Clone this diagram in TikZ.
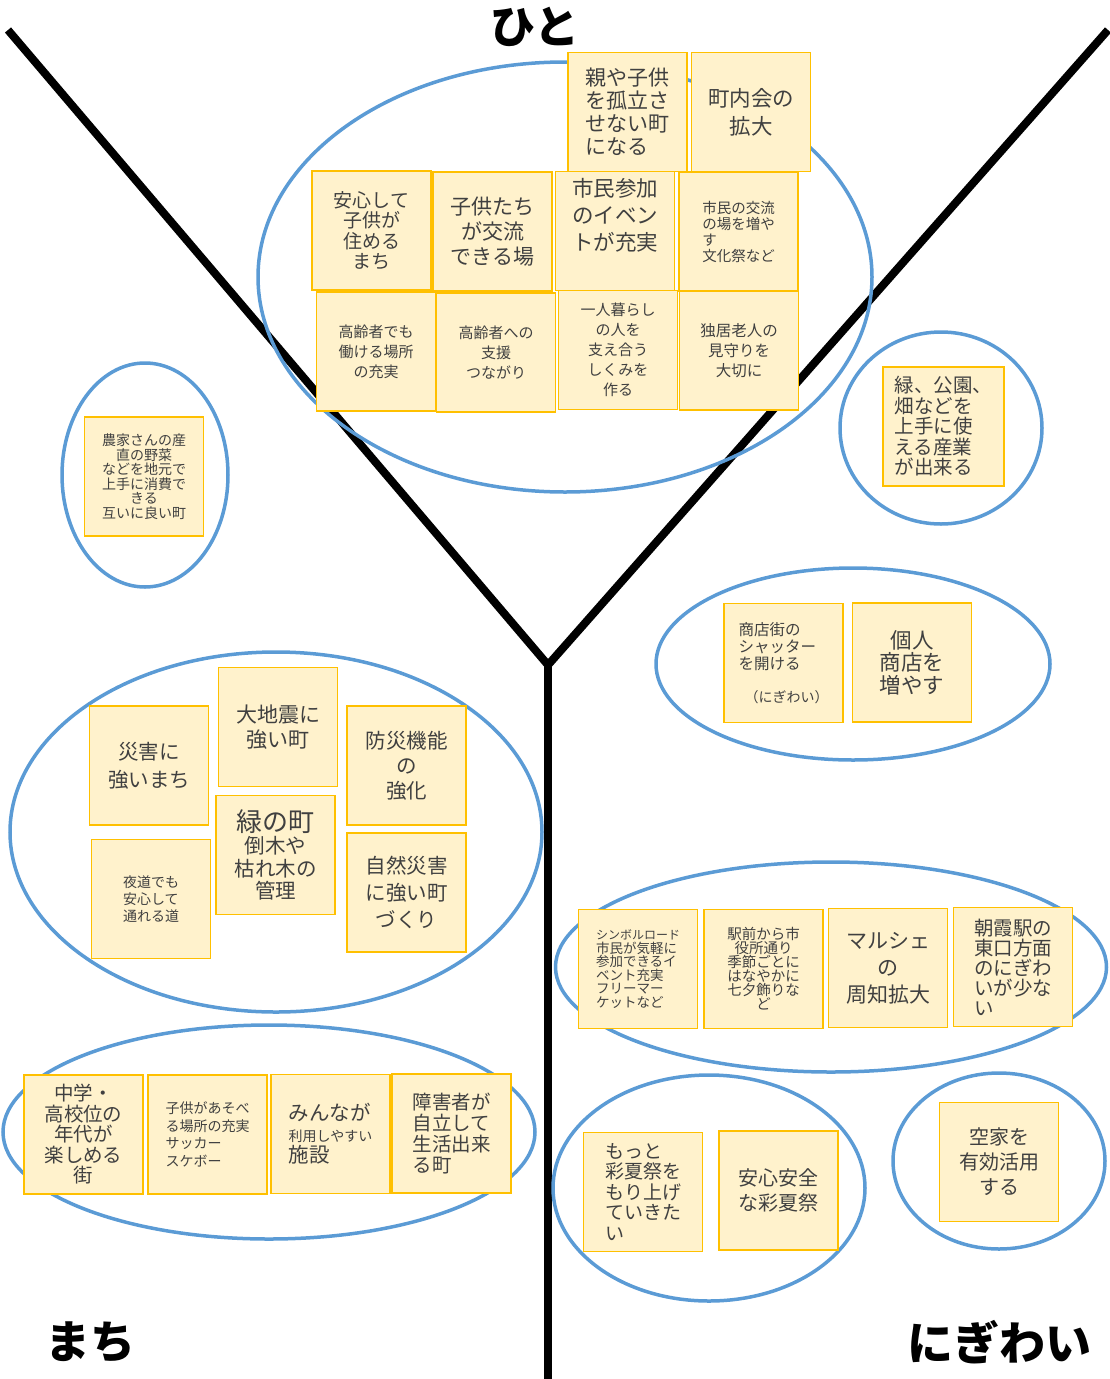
\documentclass[tikz,border=0pt]{standalone}
\usepackage{fontspec}
\setmainfont{Noto Sans CJK JP}
\usetikzlibrary{shapes.geometric}
\usepackage{xcolor}
\definecolor{ringblue}{RGB}{91,155,213}
\definecolor{notefill}{RGB}{255,242,204}
\definecolor{notegold}{RGB}{255,192,0}
\definecolor{notetext}{RGB}{64,64,64}

\begin{document}
\begin{tikzpicture}[x=1pt,y=-1pt,
  ring/.style={draw=ringblue,line width=3.5pt,ellipse,inner sep=0pt},
  note/.style={draw=notegold,line width=1.8pt,fill=notefill,rectangle,minimum width=119pt,
               minimum height=119pt,inner sep=0pt,align=center,text=notetext},
  fs/.style 2 args={font=\fontsize{#1}{#2}\selectfont},
  yline/.style={line width=8pt,black},
  areaname/.style={font=\fontsize{45}{45}\selectfont\bfseries}
]
  \useasboundingbox (0,0) rectangle (1110,1379);

  % Y-chart axes
  \coordinate (tl) at (8,30);
  \coordinate (tr) at (1108,30);
  \coordinate (mid) at (548,665);
  \coordinate (bot) at (548,1379);
  \draw[yline] (tl) -- (mid) -- (tr);
  \draw[yline] (mid) -- (bot);

  \node[areaname] (hitoname)  at (535,27)   {ひと};
  \node[areaname] (machiname) at (90,1342)  {まち};
  \node[areaname,font=\fontsize{46}{46}\selectfont\bfseries] (niginame) at (999,1342) {にぎわい};

  % groups
  \node[ring,minimum width=614pt,minimum height=430pt] (ghito)   at (565,277)  {};
  \node[ring,minimum width=166pt,minimum height=224pt] (gfarm)   at (145,475)  {};
  \node[ring,minimum width=202pt,minimum height=192pt] (ggreen)  at (941,428)  {};
  \node[ring,minimum width=394pt,minimum height=192pt] (gshop)   at (853,664)  {};
  \node[ring,minimum width=532pt,minimum height=360pt] (gsaigai) at (276,832)  {};
  \node[ring,minimum width=551pt,minimum height=210pt] (gevent)  at (831,967)  {};
  \node[ring,minimum width=532pt,minimum height=214pt] (gyouth)  at (269,1132) {};
  \node[ring,minimum width=312pt,minimum height=226pt] (gmatsuri) at (709,1188) {};
  \node[ring,minimum width=212pt,minimum height=176pt] (gakiya)  at (999,1161) {};

  % ひと
  \node[note,fs={21}{23},align=left] (parent) at (627.5,112)
    {親や子供\\を孤立さ\\せない町\\になる};
  \node[note,fs={21.5}{28}] (chonai) at (751,112) {町内会の\\拡大};
  \node[note,fs={19}{20.5}] (anshin) at (371.5,230.5) {安心して\\子供が\\住める\\まち};
  \node[note,fs={21}{25}] (kodomo) at (492.5,231.5) {子供たち\\が交流\\できる場};
  \node[note,fs={21.5}{27}] (shimin) at (615,231) {市民参加\\のイベン\\トが充実\\[6pt]};
  \node[note,fs={14.5}{16},align=left] (koryu) at (738.5,231.5)
    {市民の交流\\の場を増や\\す\\文化祭など};
  \node[note,fs={15}{20}] (koreia) at (376,351.5) {高齢者でも\\働ける場所\\の充実};
  \node[note,fs={15}{20}] (koreib) at (496,352.5) {高齢者への\\支援\\つながり};
  \node[note,fs={15}{20}] (hitori) at (618,350) {一人暮らし\\の人を\\支え合う\\しくみを\\作る};
  \node[note,fs={15.5}{20}] (dokkyo) at (739,350.5) {独居老人の\\見守りを\\大切に};

  \node[note,fs={14}{14.5}] (farm) at (144,476.5)
    {農家さんの産\\直の野菜\\などを地元で\\上手に消費で\\きる\\互いに良い町};
  \node[note,fs={19.5}{20.5},align=left,minimum width=121pt] (green) at (943.5,426.5)
    {緑、公園、\\畑などを\\上手に使\\える産業\\が出来る};

  % にぎわい
  \node[note,fs={15.5}{17},align=left] (shutter) at (783.5,663)
    {商店街の\\シャッター\\を開ける\\[16pt]\hspace{6pt}{\fontsize{14}{17}\selectfont （にぎわい）}};
  \node[note,fs={21.5}{22.5}] (kojin) at (912,662.5) {個人\\商店を\\増やす};

  \node[note,fs={13.5}{13.5},align=left] (symbol) at (638,969)
    {{\fontsize{12}{13.5}\selectfont シンボルロード}\\市民が気軽に\\参加できるイ\\ベント充実\\フリーマー\\ケットなど};
  \node[note,fs={14.5}{14}] (ekimae) at (763.5,969)
    {駅前から市\\役所通り\\季節ごとに\\はなやかに\\七夕飾りな\\ど};
  \node[note,fs={21}{27}] (marche) at (888,968) {マルシェ\\の\\周知拡大};
  \node[note,fs={19.5}{20},align=left] (asaka) at (1013,967)
    {朝霞駅の\\東口方面\\のにぎわ\\いが少な\\い};

  \node[note,fs={19}{20.5},align=left] (motto) at (643,1192)
    {もっと\\彩夏祭を\\もり上げ\\ていきた\\い};
  \node[note,fs={20}{25}] (anzen) at (778.5,1190.5) {安心安全\\な彩夏祭};
  \node[note,fs={20}{25}] (akiya) at (999,1162) {空家を\\有効活用\\する};

  % まち
  \node[note,fs={20.5}{28}] (saigai) at (149,765.5) {災害に\\強いまち};
  \node[note,fs={21}{25}] (jishin) at (278,727) {大地震に\\強い町};
  \node[note,fs={20.5}{25}] (bosai) at (406.5,765.5) {防災機能\\の\\強化};
  \node[note,fs={20.5}{22.5}] (midori) at (275.5,855)
    {{\fontsize{26}{28}\selectfont 緑の町}\\倒木や\\枯れ木の\\管理};
  \node[note,fs={14}{17},align=left] (yomichi) at (151,899) {夜道でも\\安心して\\通れる道};
  \node[note,fs={20.5}{27}] (shizen) at (406.5,892.5) {自然災害\\に強い町\\づくり};

  \node[note,fs={19.5}{20.5}] (chugaku) at (83.5,1134.5)
    {中学・\\高校位の\\年代が\\楽しめる\\街};
  \node[note,fs={14}{17.5},align=left] (asobe) at (207.5,1134.5)
    {子供があそべ\\る場所の充実\\サッカー\\スケボー};
  \node[note,fs={20.5}{21},align=left] (minna) at (330.5,1134)
    {みんなが\\{\fontsize{14}{18}\selectfont 利用しやすい}\\施設};
  \node[note,fs={19.5}{21},align=left] (shogai) at (451.5,1133.5)
    {障害者が\\自立して\\生活出来\\る町};
\end{tikzpicture}
\end{document}
